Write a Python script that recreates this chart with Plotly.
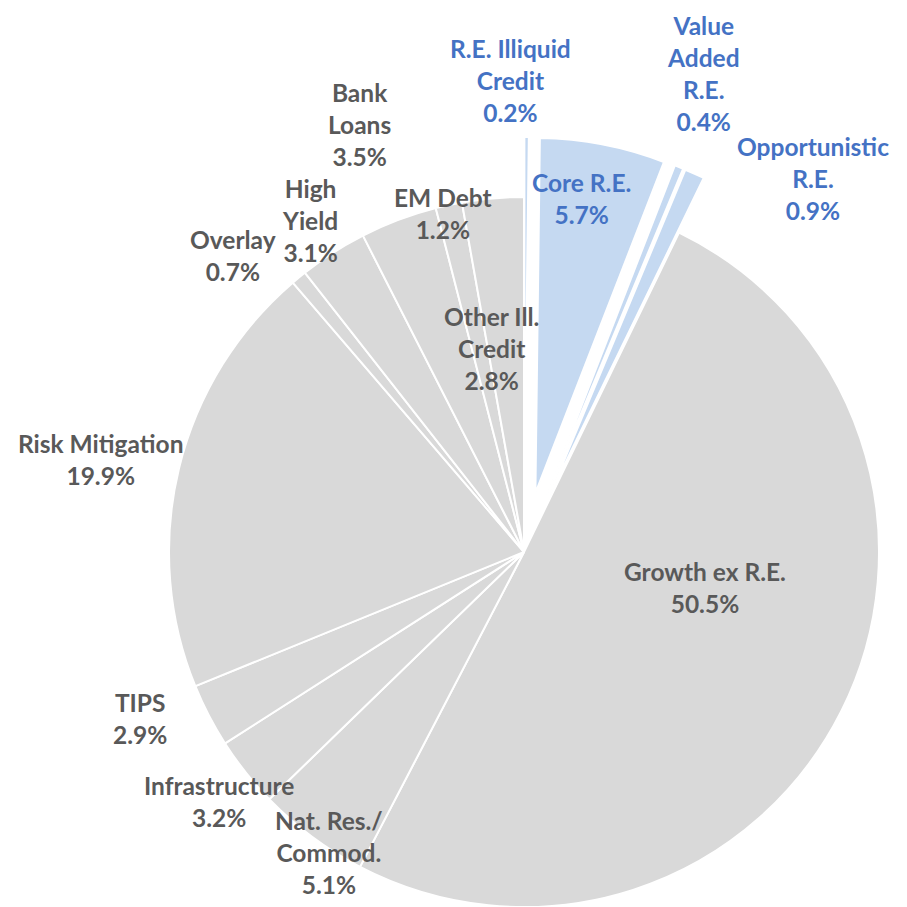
import math
import plotly.graph_objects as go

# slices, clockwise from 12 o'clock
rotulos = [
    "R.E. Illiquid<br>Credit", "Core R.E.", "Value<br>Added<br>R.E.", "Opportunistic<br>R.E.",
    "Growth ex R.E.", "Nat. Res./<br>Commod.", "Infrastructure", "TIPS",
    "Risk Mitigation", "Overlay", "High<br>Yield", "Bank<br>Loans", "EM Debt",
    "Other Ill.<br>Credit"
]
valores = [0.2, 5.7, 0.4, 0.9, 50.5, 5.1, 3.2, 2.9, 19.9, 0.7, 3.1, 3.5, 1.2, 2.8]
imobiliario = [True, True, True, True, False, False, False, False, False, False, False, False, False, False]

# label placement (radius as fraction of pie radius, angle nudge in degrees)
label_r = [1.33, 1.01, 1.44, 1.33, 0.52, 1.01, 1.11, 1.18, 1.22, 1.17, 1.11, 1.29, 0.98, 0.58]
label_nudge = [-2, -1.8, -1.4, 13.5, -15.7, -3.7, -0.8, 4, -1.2, -5, -0.3, -0.4, -1.2, -4]

COR_CINZA = "#D9D9D9"
COR_AZUL = "#C5D9F1"
TEXTO_CINZA = "#595959"
TEXTO_AZUL = "#4472C4"
TRANSP = "rgba(0,0,0,0)"

TAM = 907
# page body has an 8px margin, so the centre is set 8px up/left
CX, CY, R = 516, 544, 355
DESLOC = 60  # explosion of the R.E. slices, px

total = sum(valores)
inicio = [sum(valores[:i]) for i in range(len(valores))]
angulo_medio = [(inicio[i] + valores[i] / 2) / total * 360 for i in range(len(valores))]


def dominio(cx, cy):
    return dict(
        x=[(cx - R) / TAM, (cx + R) / TAM],
        y=[1 - (cy + R) / TAM, 1 - (cy - R) / TAM]
    )


fig = go.Figure()

# base pie, R.E. slices left empty
fig.add_trace(
    go.Pie(
        labels=rotulos,
        values=valores,
        sort=False,
        direction="clockwise",
        rotation=0,
        textinfo="none",
        hoverinfo="label+percent",
        marker=dict(
            colors=[TRANSP if re else COR_CINZA for re in imobiliario],
            line=dict(color="white", width=[0 if re else 2 for re in imobiliario])
        ),
        domain=dominio(CX, CY),
        showlegend=False
    )
)

# each exploded slice as its own pie shifted along its mid angle
for i, re in enumerate(imobiliario):
    if not re:
        continue
    a = math.radians(angulo_medio[i])
    cx = CX + DESLOC * math.sin(a)
    cy = CY - DESLOC * math.cos(a)
    fig.add_trace(
        go.Pie(
            labels=rotulos,
            values=valores,
            sort=False,
            direction="clockwise",
            rotation=0,
            textinfo="none",
            hoverinfo="label+percent",
            marker=dict(
                colors=[COR_AZUL if j == i else TRANSP for j in range(len(valores))],
                line=dict(color="white", width=[2 if j == i else 0 for j in range(len(valores))])
            ),
            domain=dominio(cx, cy),
            showlegend=False
        )
    )

for i, rotulo in enumerate(rotulos):
    a = math.radians(angulo_medio[i] + label_nudge[i])
    dist = label_r[i] * R
    px = CX + dist * math.sin(a)
    py = CY - dist * math.cos(a)
    fig.add_annotation(
        x=px / TAM,
        y=1 - py / TAM,
        xref="paper",
        yref="paper",
        text=f"<b>{rotulo}<br>{valores[i]:.1f}%</b>",
        showarrow=False,
        xanchor="center",
        yanchor="middle",
        align="center",
        font=dict(
            family="Lato",
            size=24.5,
            color=TEXTO_AZUL if imobiliario[i] else TEXTO_CINZA
        )
    )

fig.update_layout(
    width=TAM,
    height=TAM,
    margin=dict(l=0, r=0, t=0, b=0),
    paper_bgcolor="white",
    plot_bgcolor="white"
)

fig.write_html("out.html")
